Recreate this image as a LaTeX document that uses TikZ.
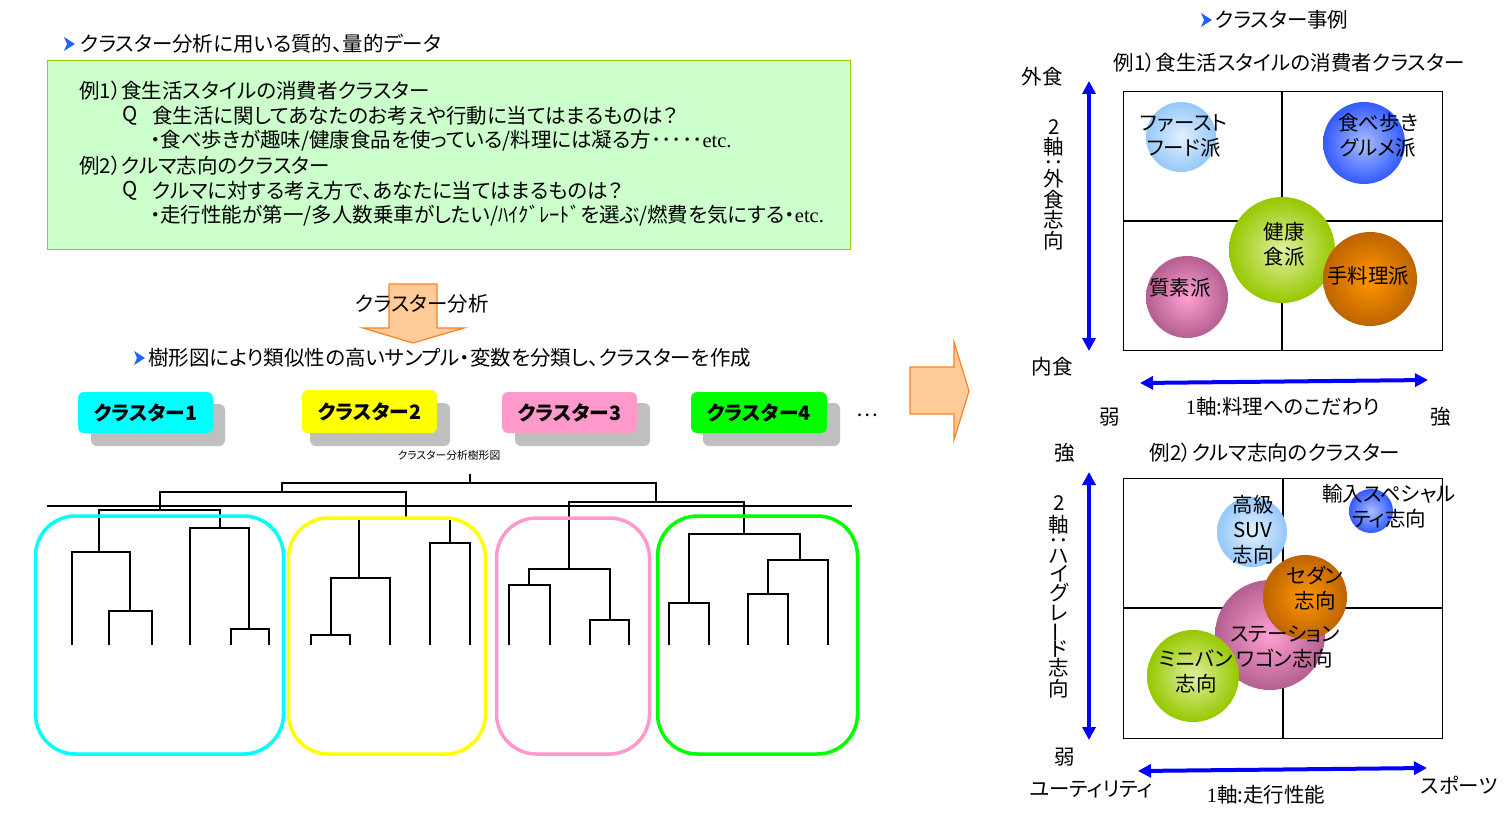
\documentclass[tikz,border=0pt]{standalone}
\usepackage{fontspec}
\usepackage{graphicx}
\setmainfont{Noto Sans CJK JP}[RawFeature=+palt]
\newfontfamily\serifL{Liberation Serif}
\usetikzlibrary{arrows.meta}
\definecolor{bgreen}{RGB}{204,255,204}
\definecolor{bgreenedge}{RGB}{153,204,0}
\definecolor{oarrow}{RGB}{255,204,153}
\definecolor{oedge}{RGB}{255,128,32}
\definecolor{ccyan}{RGB}{0,255,255}
\definecolor{cyellow}{RGB}{255,255,0}
\definecolor{cpink}{RGB}{255,153,204}
\definecolor{cgreen}{RGB}{0,255,0}
\definecolor{shadowgray}{RGB}{191,191,191}
\definecolor{chevblue}{RGB}{30,100,255}
\definecolor{axblue}{RGB}{0,0,255}
\definecolor{lbIn}{RGB}{225,240,255}
\definecolor{lbOut}{RGB}{150,200,250}
\definecolor{bIn}{RGB}{170,190,255}
\definecolor{bOut}{RGB}{50,90,255}
\definecolor{pIn}{RGB}{255,160,210}
\definecolor{pOut}{RGB}{180,95,145}
\definecolor{gIn}{RGB}{225,240,160}
\definecolor{gOut}{RGB}{150,200,0}
\definecolor{oIn}{RGB}{255,150,0}
\definecolor{oOut}{RGB}{190,100,0}
\newcommand\vcolon{\rotatebox[origin=c]{90}{：}}
\newcommand\vchoon{\rotatebox[origin=c]{90}{ー}}
\begin{document}
\begin{tikzpicture}[x=1pt,y=-1pt,
  txt/.style={font=\fontsize{20.5}{25}\selectfont, inner sep=0pt, align=center},
  lt/.style={txt, anchor=west},
  lbl/.style={font=\bfseries\fontsize{19.8}{22}\selectfont, inner sep=0pt},
  dend/.style={line width=1.6pt, black},
  clbox/.style={line width=3.5pt, rounded corners=40pt},
  tagbox/.style={rounded corners=6pt},
  axis/.style={line width=4pt, axblue, {Triangle[length=13pt,width=13pt]}-{Triangle[length=13pt,width=13pt]}},
  gridl/.style={line width=1.8pt},
  fat/.style={fill=oarrow, draw=oedge, line width=1.2pt},
  chev/.pic={\fill[chevblue] (-5,-7) -- (6,0) -- (-5,7) -- (-2,0) -- cycle;}
]
\useasboundingbox (0,0) rectangle (1512,832);
\fill[white] (0,0) rectangle (1512,832);

% ---------- left top ----------
\pic at (69,44) {chev};
\node[lt] (h1) at (80,44) {クラスター分析に用いる質的、量的データ};
\draw[fill=bgreen, draw=bgreenedge, line width=1pt] (47,61) rectangle (850,249);
\node[lt] (l1) at (79,91) {例1）食生活スタイルの消費者クラスター};
\node[lt] (q1) at (122,116) {Q};
\node[lt] (l2) at (152,116) {食生活に関してあなたのお考えや行動に当てはまるものは？};
\node[lt] (l3) at (150,141) {・食べ歩きが趣味/健康食品を使っている/料理には凝る方･････{\serifL etc.}};
\node[lt] (l4) at (79,166) {例2）クルマ志向のクラスター};
\node[lt] (q2) at (122,191) {Q};
\node[lt] (l5) at (152,191) {クルマに対する考え方で、あなたに当てはまるものは？};
\node[lt] (l6) at (150,216) {・走行性能が第一/多人数乗車がしたい/ﾊｲｸﾞﾚｰﾄﾞを選ぶ/燃費を気にする・{\serifL etc.}};

% down arrow
\draw[fat] (389,284) -- (437,284) -- (437,328) -- (464,328) -- (413,343) -- (363,328) -- (389,328) -- cycle;
\node[txt] (ca) at (422,304) {クラスター分析};
\pic at (139,358) {chev};
\node[lt] (h2) at (148,358) {樹形図により類似性の高いサンプル・変数を分類し、クラスターを作成};

% cluster tags
\fill[shadowgray, tagbox] (91,404) rectangle (225,446);
\fill[ccyan, tagbox] (78,392) rectangle (213,433);
\node[lbl] (c1) at (145.5,412.5) {クラスター1};
\fill[shadowgray, tagbox] (310,403) rectangle (450,446);
\fill[cyellow, tagbox] (302,390) rectangle (437,433);
\node[lbl] (c2) at (369.5,411.5) {クラスター2};
\fill[shadowgray, tagbox] (515,403) rectangle (650,446);
\fill[cpink, tagbox] (502,392) rectangle (637,433);
\node[lbl] (c3) at (569.5,412.5) {クラスター3};
\fill[shadowgray, tagbox] (703,403) rectangle (840,446);
\fill[cgreen, tagbox] (691,392) rectangle (827,433);
\node[lbl] (c4) at (759,412.5) {クラスター4};
\node[txt] (dots) at (867,415) {…};
\node[inner sep=0pt, font=\fontsize{10.8}{12}\selectfont] (dtitle) at (449,455) {クラスター分析樹形図};

% dendrogram
\draw[dend] (109,645) |- (130,611) -| (152,645);
\draw[dend] (72,645) |- (99,552) -| (130,611);
\draw[dend] (231,645) |- (249,629) -| (269,645);
\draw[dend] (190,645) |- (220,528) -| (249,629);
\draw[dend] (99,552) |- (160,510) -| (220,528);
\draw[dend] (311,645) |- (331,635) -| (350,645);
\draw[dend] (331,635) |- (359,578) -| (390,645);
\draw[dend] (430,645) |- (450,543) -| (470,645);
\draw[dend] (359,578) |- (406,518) -| (450,543);
\draw[dend] (160,510) |- (282,492) -| (406,518);
\draw[dend] (509,645) |- (529,585) -| (550,645);
\draw[dend] (590,645) |- (610,620) -| (629,645);
\draw[dend] (529,585) |- (569,569) -| (610,620);
\draw[dend] (669,645) |- (689,603) -| (709,645);
\draw[dend] (748,645) |- (768,594) -| (788,645);
\draw[dend] (768,594) |- (800,560) -| (828,645);
\draw[dend] (689,603) |- (744,534) -| (800,560);
\draw[dend] (569,569) |- (656,502) -| (744,534);
\draw[dend] (282,492) |- (470,483) -| (656,502);
\draw[dend] (470,483) -- (470,474);
\draw[line width=2.5pt] (47,506) -- (852,506);

% cluster boxes
\draw[clbox, ccyan] (35.5,516) rectangle (283.5,754);
\draw[clbox, cyellow] (288.5,518) rectangle (485.5,754);
\draw[clbox, cpink] (496.5,518) rectangle (649.5,754);
\draw[clbox, cgreen] (657.5,516) rectangle (857.5,754);

% big right arrow
\draw[fat] (910,367) -- (954,367) -- (954,342) -- (969,391) -- (954,440) -- (954,414) -- (910,414) -- cycle;

% ---------- right: example 1 ----------
\pic at (1206,20) {chev};
\node[lt] (h3) at (1215,20) {クラスター事例};
\node[txt] (t1) at (1289,63) {例1）食生活スタイルの消費者クラスター};
\draw[line width=1pt] (1123,92) rectangle (1442,350);
\draw[gridl] (1282,92) -- (1282,350);
\draw[gridl] (1123,221) -- (1442,221);
\coordinate (a1t) at (1089,81); \coordinate (a1b) at (1089,351);
\coordinate (a1l) at (1140,383); \coordinate (a1r) at (1428,380);
\draw[axis] (a1t) -- (a1b);
\draw[axis] (a1l) -- (a1r);
\node[txt] (gai) at (1042,77) {外食};
\node[txt] (nai) at (1052,367) {内食};
\node[txt] (jaku1) at (1110,417) {弱};
\node[txt] (kyo1) at (1441,417) {強};
\node[txt] (ax1) at (1283,407) {{\serifL 1}軸:料理へのこだわり};
\foreach \c/\yy [count=\i] in {2/127, 軸/147, \vcolon/163, 外/179, 食/200, 志/220, 向/241}
  \node[txt] (va\i) at (1054,\yy) {\c};

\shade[inner color=lbIn, outer color=lbOut] (1181,137) circle (35pt);
\shade[inner color=bIn, outer color=bOut] (1364,143) circle (41pt);
\shade[inner color=pIn, outer color=pOut] (1187,297) circle (41pt);
\shade[inner color=gIn, outer color=gOut] (1282,250) circle (53pt);
\shade[inner color=oIn, outer color=oOut] (1370,279) circle (47pt);
\node[txt] (b1) at (1184,136) {ファースト\\フード派};
\node[txt] (b2) at (1378,135) {食べ歩き\\グルメ派};
\node[txt] (b3) at (1284,244) {健康\\食派};
\node[txt] (b4) at (1368,276) {手料理派};
\node[txt] (b5) at (1180,288) {質素派};

% ---------- right: example 2 ----------
\node[txt] (t2) at (1275,453) {例2）クルマ志向のクラスター};
\draw[line width=1pt] (1123,478) rectangle (1442,738);
\draw[gridl] (1283,478) -- (1283,738);
\draw[gridl] (1123,608) -- (1442,608);
\coordinate (a2t) at (1089,472); \coordinate (a2b) at (1089,740);
\coordinate (a2l) at (1138,771); \coordinate (a2r) at (1427,768);
\draw[axis] (a2t) -- (a2b);
\draw[axis] (a2l) -- (a2r);
\node[txt] (kyo2) at (1065,453) {強};
\node[txt] (jaku2) at (1065,757) {弱};
\node[txt] (uti) at (1091,790) {ユーティリティ};
\node[txt] (ax2) at (1266,795) {{\serifL 1}軸:走行性能};
\node[txt] (spo) at (1459,785) {スポーツ};
\foreach \c/\yy [count=\i] in {2/503, 軸/525, \vcolon/541, ハ/556, イ/574, グ/593, レ/613, \vchoon/632, ド/649, 志/668, 向/689}
  \node[txt] (vb\i) at (1059,\yy) {\c};

\shade[inner color=lbIn, outer color=lbOut] (1252,532) circle (35pt);
\shade[inner color=bIn, outer color=bOut] (1371,511) circle (22pt);
\shade[inner color=pIn, outer color=pOut] (1270,635) circle (55pt);
\shade[inner color=oIn, outer color=oOut] (1305,597) circle (42pt);
\shade[inner color=gIn, outer color=gOut] (1193,676) circle (46pt);
\node[txt] (d1) at (1253,530) {高級\\SUV\\志向};
\node[txt] (d2) at (1389,506) {輸入スペシャル\\ティ志向};
\node[txt] (d3) at (1315,588) {セダン\\志向};
\node[txt] (d4) at (1285,647) {ステーション\\ワゴン志向};
\node[txt] (d5) at (1196,671) {ミニバン\\志向};
\end{tikzpicture}
\end{document}
